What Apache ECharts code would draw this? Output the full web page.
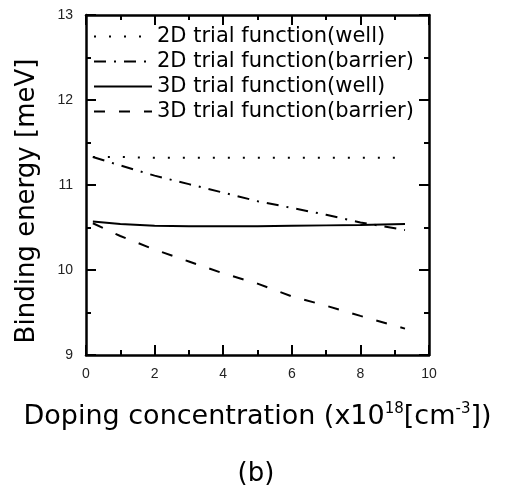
<!DOCTYPE html>
<html>
<head>
<meta charset="utf-8">
<script src="https://cdn.jsdelivr.net/npm/echarts@6/dist/echarts.min.js"></script>
<style>
  html, body { margin: 0; padding: 0; background: #fff; }
  #main { width: 512px; height: 495px; }
</style>
</head>
<body>
<div id="main"></div>
<script>
// doping concentration (x10^18 cm^-3) sample points
var doping = [0.2, 1, 2, 3, 4, 5, 6, 7, 8, 9.3];

// binding energy (meV)
var well2D    = [11.33, 11.33, 11.32, 11.32, 11.32, 11.32, 11.32, 11.32, 11.32, 11.32];
var barrier2D = [11.33, 11.23, 11.11, 11.01, 10.91, 10.81, 10.73, 10.65, 10.56, 10.47];
var well3D    = [10.57, 10.54, 10.52, 10.515, 10.515, 10.515, 10.52, 10.525, 10.53, 10.54];
var barrier3D = [10.55, 10.40, 10.24, 10.10, 9.96, 9.84, 9.69, 9.58, 9.46, 9.31];

var names = [
    '2D trial function(well)',
    '2D trial function(barrier)',
    '3D trial function(well)',
    '3D trial function(barrier)'
];

function pairs(ys) {
    return doping.map(function (x, i) { return [x, ys[i]]; });
}

var myChart = echarts.init(document.getElementById('main'));

var wide = 'DejaVu Sans, sans-serif';
var narrow = 'Liberation Sans, Arial, sans-serif';

// frame axes: line + inward ticks, no labels
function frameX(pos) {
    return {
        type: 'value', min: 0, max: 10, interval: 2, position: pos,
        axisLine: { onZero: false, lineStyle: { color: '#000', width: 2.5 } },
        axisTick: { inside: true, length: 10, lineStyle: { color: '#000', width: 2 } },
        minorTick: { show: true, splitNumber: 2, length: 5, lineStyle: { color: '#000', width: 2 } },
        axisLabel: { show: false },
        splitLine: { show: false }
    };
}
function frameY(pos) {
    return {
        type: 'value', min: 9, max: 13, interval: 1, position: pos,
        axisLine: { onZero: false, lineStyle: { color: '#000', width: 2.5 } },
        axisTick: { inside: true, length: 10, lineStyle: { color: '#000', width: 2 } },
        minorTick: { show: true, splitNumber: 2, length: 5, lineStyle: { color: '#000', width: 2 } },
        axisLabel: { show: false },
        splitLine: { show: false }
    };
}

var option = {
    animation: false,
    backgroundColor: '#fff',
    title: {
        text: '(b)',
        left: 'center',
        top: 456,
        textStyle: { fontFamily: wide, fontSize: 26, fontWeight: 'normal', color: '#000' }
    },
    grid: { left: 86, right: 83, top: 15, bottom: 140 },
    legend: {
        orient: 'vertical',
        left: 88,
        top: 21,
        itemGap: 4,
        itemWidth: 58,
        itemHeight: 14,
        data: names,
        itemStyle: { opacity: 0 },
        textStyle: { fontFamily: wide, fontSize: 21, color: '#000' }
    },
    xAxis: [
        {
            type: 'value', min: 0, max: 10, interval: 2,
            position: 'bottom',
            name: 'Doping concentration (x10{sup|18}[cm{sup|-3}])',
            nameLocation: 'middle',
            nameGap: 47,
            nameTextStyle: {
                fontFamily: wide, fontSize: 27, color: '#000',
                rich: { sup: { fontFamily: wide, fontSize: 15, color: '#000', padding: [0, 0, 14, 0] } }
            },
            axisLine: { show: false, onZero: false },
            axisTick: { show: false },
            splitLine: { show: false },
            axisLabel: { fontFamily: narrow, fontSize: 14, color: '#222', margin: 12 }
        },
        frameX('bottom'),
        frameX('top')
    ],
    yAxis: [
        {
            type: 'value', min: 9, max: 13, interval: 1,
            position: 'left',
            name: 'Binding energy [meV]',
            nameLocation: 'middle',
            nameGap: 46,
            nameTextStyle: { fontFamily: wide, fontSize: 26, color: '#000', padding: [0, 32, 0, 0] },
            axisLine: { show: false, onZero: false },
            axisTick: { show: false },
            splitLine: { show: false },
            axisLabel: { fontFamily: narrow, fontSize: 14, color: '#222', margin: 13 }
        },
        frameY('left'),
        frameY('right')
    ],
    series: [
        {
            name: names[0], type: 'line', symbol: 'none', color: '#000', data: pairs(well2D),
            lineStyle: { color: '#000', width: 2, type: [2, 13] }
        },
        {
            name: names[1], type: 'line', symbol: 'none', color: '#000', data: pairs(barrier2D),
            lineStyle: { color: '#000', width: 2, type: [12, 8, 2, 8] }
        },
        {
            name: names[2], type: 'line', symbol: 'none', color: '#000', data: pairs(well3D),
            lineStyle: { color: '#000', width: 2, type: 'solid' }
        },
        {
            name: names[3], type: 'line', symbol: 'none', color: '#000', data: pairs(barrier3D),
            lineStyle: { color: '#000', width: 2, type: [11, 14] }
        }
    ]
};

myChart.setOption(option);
</script>
</body>
</html>
